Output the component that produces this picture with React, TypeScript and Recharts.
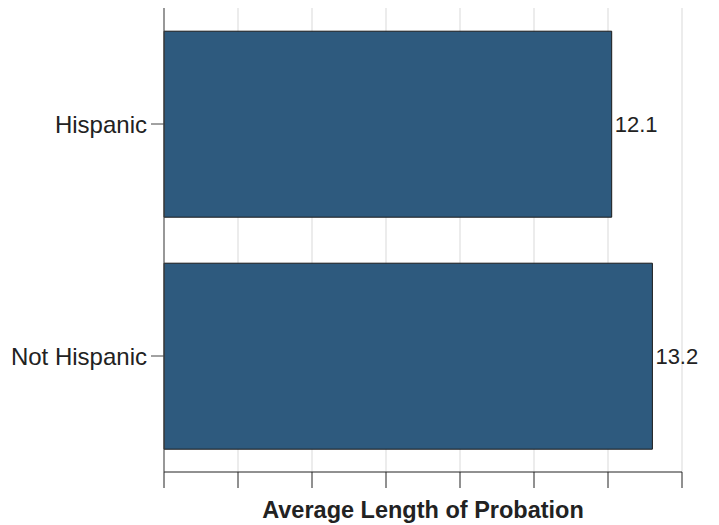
import { BarChart, Bar, XAxis, YAxis, CartesianGrid, LabelList } from 'recharts'

const categories = ['Hispanic', 'Not Hispanic']
const avgProbation = [12.1, 13.2]
const xTicks = [0, 2, 4, 6, 8, 10, 12, 14]

const data = categories.map((name, i) => ({ name, value: avgProbation[i] }))

const FONT = '"Liberation Sans", Arial, Helvetica, sans-serif'

export default function App() {
  return (
    <div style={{ width: 711, height: 517, fontFamily: FONT }}>
      <BarChart
        width={711}
        height={517}
        data={data}
        layout="vertical"
        margin={{ top: 0, right: 37, bottom: 0, left: 0 }}
        barCategoryGap="10%"
      >
        <CartesianGrid horizontal={false} stroke="#d9d9d9" />
        <XAxis
          type="number"
          domain={[0, 14]}
          ticks={xTicks}
          tick={() => <g />}
          tickSize={16}
          height={53}
          stroke="#222"
          label={{
            value: 'Average Length of Probation',
            position: 'insideBottom',
            offset: 7,
            fill: '#222',
            fontSize: 23.5,
            fontWeight: 'bold',
            fontFamily: FONT,
          }}
        />
        <YAxis
          type="category"
          dataKey="name"
          width={156}
          tickSize={13}
          tickMargin={4}
          stroke="#444"
          tick={{ fill: '#222', fontSize: 24, fontFamily: FONT }}
        />
        <Bar dataKey="value" fill="#2e5a7e" stroke="#1a1a1a" strokeWidth={1} isAnimationActive={false}>
          <LabelList
            dataKey="value"
            position="right"
            offset={3}
            fill="#222"
            fontSize={22}
            fontFamily={FONT}
            formatter={(v: number) => v.toFixed(1)}
          />
        </Bar>
      </BarChart>
    </div>
  )
}
